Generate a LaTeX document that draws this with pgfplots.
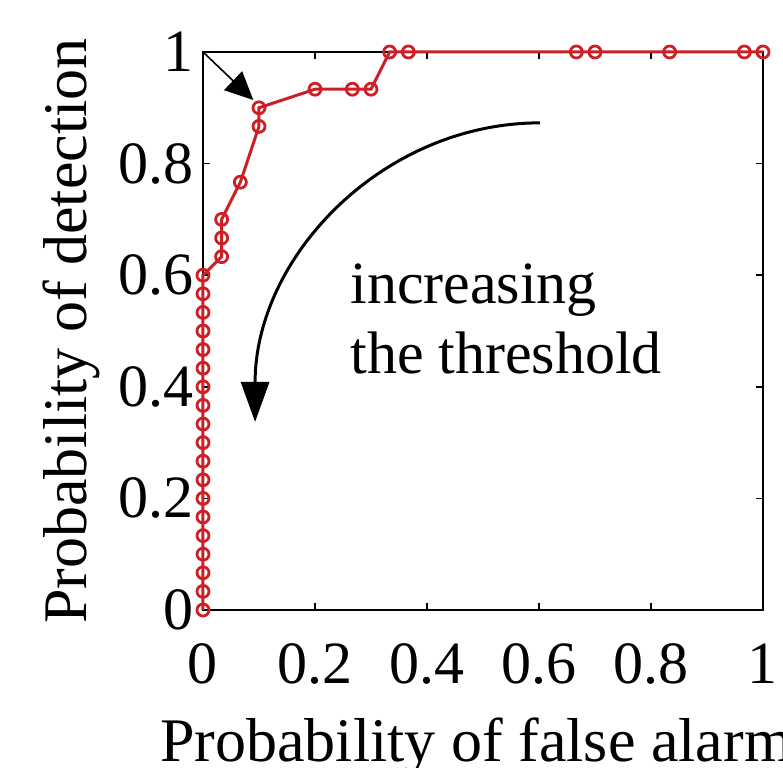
\documentclass[border=0pt]{standalone}
\usepackage{fontspec}
\setmainfont{Liberation Serif}
\usepackage{pgfplots}
\pgfplotsset{compat=1.18}
\usetikzlibrary{arrows.meta,calc}
\definecolor{rocred}{RGB}{205,32,38}

\begin{document}
\begin{tikzpicture}
\begin{axis}[
  name=ax,
  scale only axis,
  width=280pt, height=279pt,
  xmin=0, xmax=1, ymin=0, ymax=1,
  xtick={0,0.2,0.4,0.6,0.8,1},
  ytick={0,0.2,0.4,0.6,0.8,1},
  tick align=inside,
  major tick length=3.5pt,
  axis line style={line width=0.8pt},
  every tick/.style={black, line width=0.8pt},
  /pgf/number format/assume math mode=true,
  ticklabel style={font=\fontsize{30}{36}\selectfont},
  xticklabel style={yshift=-13.5pt},
  yticklabel style={xshift=-1pt},
  label style={font=\fontsize{31}{37}\selectfont},
  xlabel={Probability of false alarm},
  ylabel={Probability of detection},
  xlabel style={at={(axis description cs:0.488,-0.2724)}, anchor=base},
  ylabel style={at={(axis description cs:-0.2357,0.5)}, anchor=center},
  clip=false,
]
\addplot[color=rocred, line width=1.5pt, mark=o, mark size=3pt,
         mark options={line width=1.4pt}] coordinates {
  (0,0) (0,0.0333) (0,0.0667) (0,0.1) (0,0.1333) (0,0.1667) (0,0.2)
  (0,0.2333) (0,0.2667) (0,0.3) (0,0.3333) (0,0.3667) (0,0.4) (0,0.4333)
  (0,0.4667) (0,0.5) (0,0.5333) (0,0.5667) (0,0.6)
  (0.0333,0.6333) (0.0333,0.6667) (0.0333,0.7) (0.0667,0.7667)
  (0.1,0.8667) (0.1,0.9) (0.2,0.9333) (0.2667,0.9333) (0.3,0.9333)
  (0.3333,1) (0.3667,1) (0.6667,1) (0.7,1) (0.8333,1) (0.9667,1) (1,1)
};
% annotations
\draw[line width=0.8pt, -{Triangle[length=14pt,width=13pt]}]
  (axis cs:0,1) -- (axis cs:0.0898,0.914);
\draw[line width=1.5pt, -{Triangle[length=20pt,width=14pt]}]
  (axis cs:0.602,0.873) .. controls (axis cs:0.321,0.873)
  and (axis cs:0.093,0.633) .. (axis cs:0.093,0.337);
\node[anchor=base west, inner sep=0, font=\fontsize{30}{36}\selectfont]
  at (axis cs:0.2625,0.550) {increasing};
\node[anchor=base west, inner sep=0, font=\fontsize{30}{36}\selectfont]
  at (axis cs:0.2625,0.4247) {the threshold};
\end{axis}
\pgfresetboundingbox
\path[use as bounding box] ($(ax.south west)+(-101.5pt,-78.5pt)$)
  rectangle ($(ax.north east)+(10pt,26pt)$);
\end{tikzpicture}
\end{document}
